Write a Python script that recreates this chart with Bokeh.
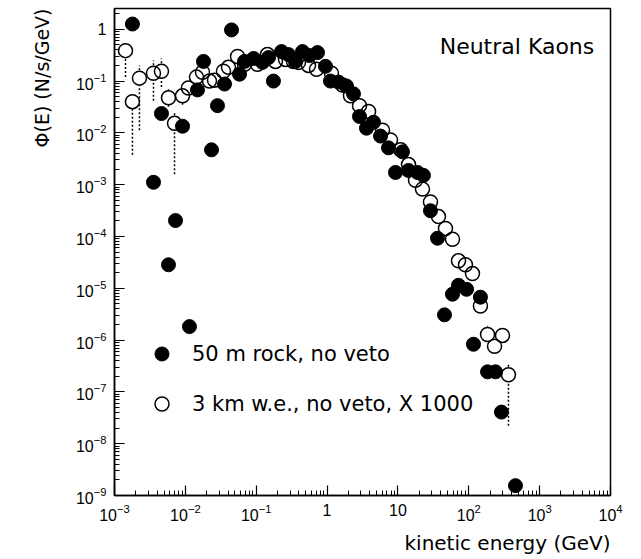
import numpy as np
from bokeh.plotting import figure
from bokeh.models import Title, Label, Legend, LegendItem, ColumnDataSource
from bokeh.embed import file_html
from bokeh.resources import INLINE

# 50 m rock, no veto  (kinetic energy in GeV, flux in N/s/GeV)
rock_e = [0.00179, 0.00355, 0.0046, 0.00578, 0.00726, 0.00912, 0.01143, 0.01483,
          0.01803, 0.0234, 0.0284, 0.0357, 0.0448, 0.0581, 0.0684, 0.0917,
          0.1228, 0.149, 0.175, 0.2275, 0.2857, 0.358, 0.450, 0.565,
          0.733, 0.95, 1.117, 1.449, 1.88, 2.36, 2.87, 3.60,
          4.52, 5.68, 7.36, 11.6, 9.24, 14.1, 18.9, 22.9,
          28.8, 36.2, 45.4, 58.9, 71.6, 92.9, 116.5, 146,
          184, 238, 289, 456]
rock_flux = [1.26, 0.00111, 0.0236, 2.84e-5, 2.03e-4, 0.0134, 1.82e-6, 0.0674,
             0.239, 0.0047, 0.0335, 0.0875, 0.97, 0.1355, 0.239, 0.272,
             0.229, 0.284, 0.0998, 0.370, 0.324, 0.239, 0.370, 0.310,
             0.354, 0.192, 0.0998, 0.0955, 0.0802, 0.0566, 0.0207, 0.0123,
             0.0160, 0.00866, 0.00513, 0.0043, 0.00172, 0.00188, 0.00172, 0.00151,
             3.14e-4, 9.24e-5, 3.07e-6, 7.68e-6, 1.14e-5, 9.55e-6, 8.3e-7, 6.73e-6,
             2.44e-7, 2.44e-7, 4.07e-8, 1.55e-9]

# 3 km w.e., no veto, scaled by 1000, with error bounds (nan = no bar drawn)
nan = float("nan")
deep_e = [0.00143, 0.00179, 0.00225, 0.00355, 0.0046, 0.00578, 0.00703, 0.00912,
          0.01106, 0.01435, 0.01745, 0.0219, 0.0258, 0.0345, 0.0406, 0.0545,
          0.0684, 0.1043, 0.144, 0.187, 0.259, 0.336, 0.395, 0.547,
          0.71, 1.153, 1.65, 2.14, 2.87, 3.85, 6.06, 7.85,
          10.9, 14.1, 17.7, 22.2, 28.8, 37.3, 46.9, 58.9,
          71.6, 89.8, 112.7, 146, 184, 231, 299, 363]
deep_flux = [0.386, 0.0399, 0.1137, 0.1415, 0.1545, 0.0475, 0.01527, 0.0518,
             0.0735, 0.119, 0.148, 0.0998, 0.104, 0.1545, 0.184, 0.297,
             0.210, 0.210, 0.324, 0.239, 0.261, 0.239, 0.229, 0.200,
             0.169, 0.1415, 0.0838, 0.0518, 0.0335, 0.0258, 0.01125, 0.00727,
             0.0047, 0.00244, 0.00121, 8.2e-4, 4.65e-4, 2.42e-4, 1.43e-4, 8.85e-5,
             3.39e-5, 2.84e-5, 1.92e-5, 4.55e-6, 1.28e-6, 7.6e-7, 1.23e-6, 2.14e-7]
deep_lo = [0.119, 0.00378, 0.01125, 0.0417, 0.0768, 0.032, 0.00158, 0.035,
           nan, nan, nan, nan, nan, nan, nan, nan,
           nan, nan, nan, nan, nan, nan, nan, nan,
           nan, nan, nan, nan, nan, nan, nan, nan,
           nan, nan, nan, nan, nan, nan, nan, nan,
           nan, nan, nan, nan, nan, 5.6e-7, nan, 2.21e-8]
deep_hi = [nan, nan, 0.200, 0.249, 0.272, 0.0703, 0.0258, 0.073,
           nan, nan, nan, nan, nan, nan, nan, nan,
           nan, nan, nan, nan, nan, nan, nan, nan,
           nan, nan, nan, nan, nan, nan, nan, nan,
           nan, nan, nan, nan, nan, nan, nan, nan,
           nan, nan, nan, nan, 1.9e-6, nan, nan, 3.45e-7]

x_ticks_override = {1: "1", 10: "10"}
y_ticks_override = {1: "1"}

FONT = "DejaVu Sans"
TICK_FONT = "Liberation Sans"

p = figure(width=641, height=559, x_axis_type="log", y_axis_type="log",
           x_range=(1e-3, 1e4), y_range=(1e-9, 10 ** 0.4),
           output_backend="svg", toolbar_location=None,
           min_border_left=114, min_border_right=31,
           min_border_top=8, min_border_bottom=55)

p.xgrid.visible = False
p.ygrid.visible = False
p.outline_line_color = "black"
p.outline_line_width = 1.5
p.background_fill_color = "white"
p.border_fill_color = "white"

for ax in (p.xaxis[0], p.yaxis[0]):
    ax.axis_line_width = 1.5
    ax.axis_line_color = "black"
    ax.major_tick_in = 10
    ax.major_tick_out = 0
    ax.minor_tick_in = 5
    ax.minor_tick_out = 0
    ax.major_tick_line_width = 1.2
    ax.minor_tick_line_width = 1.0
    ax.major_label_text_font = TICK_FONT
    ax.major_label_text_font_size = "16px"
    ax.major_label_text_color = "black"
    ax.major_label_standoff = 8

p.xaxis.major_label_overrides = x_ticks_override
p.yaxis.major_label_overrides = y_ticks_override

p.add_layout(Title(text="Φ(E) (N/s/GeV)", align="right", text_font=FONT,
                   text_font_size="19px", text_font_style="normal",
                   text_color="black", standoff=40), "left")
p.add_layout(Title(text="kinetic energy (GeV)", align="right", text_font=FONT,
                   text_font_size="20px", text_font_style="normal",
                   text_color="black"), "below")

# error bars of the 3 km w.e. sample
err = ColumnDataSource(dict(x=deep_e, lo=deep_lo, y=deep_flux, hi=deep_hi))
p.segment(x0="x", y0="lo", x1="x", y1="y", source=err, line_color="black",
          line_width=1.5, line_dash="2 2")
p.segment(x0="x", y0="y", x1="x", y1="hi", source=err, line_color="black",
          line_width=1.5, line_dash="2 2")

deep = ColumnDataSource(dict(x=deep_e, y=deep_flux))
rock = ColumnDataSource(dict(x=rock_e, y=rock_flux))

# white discs keep the bars from showing inside the hollow markers
p.scatter("x", "y", source=deep, size=13, fill_color="white", line_color=None)
r_deep = p.scatter("x", "y", source=deep, size=14, fill_color=None,
                   line_color="black", line_width=1.5)
r_rock = p.scatter("x", "y", source=rock, size=14, fill_color="black",
                   line_color="black")

legend = Legend(items=[LegendItem(label="50 m rock, no veto", renderers=[r_rock]),
                       LegendItem(label="3 km w.e., no veto, X 1000", renderers=[r_deep])],
                location=(30, 74), padding=0, spacing=15,
                glyph_width=35, glyph_height=35, label_standoff=13,
                label_text_font=FONT, label_text_font_size="21px",
                label_text_color="black",
                border_line_alpha=0, background_fill_alpha=0)
p.add_layout(legend)

p.add_layout(Label(x=5900, y=0.46, text="Neutral Kaons", text_align="right",
                   text_baseline="middle", text_font=FONT, text_font_size="22px",
                   text_color="black"))

open("out.html", "w").write(file_html(p, INLINE))
